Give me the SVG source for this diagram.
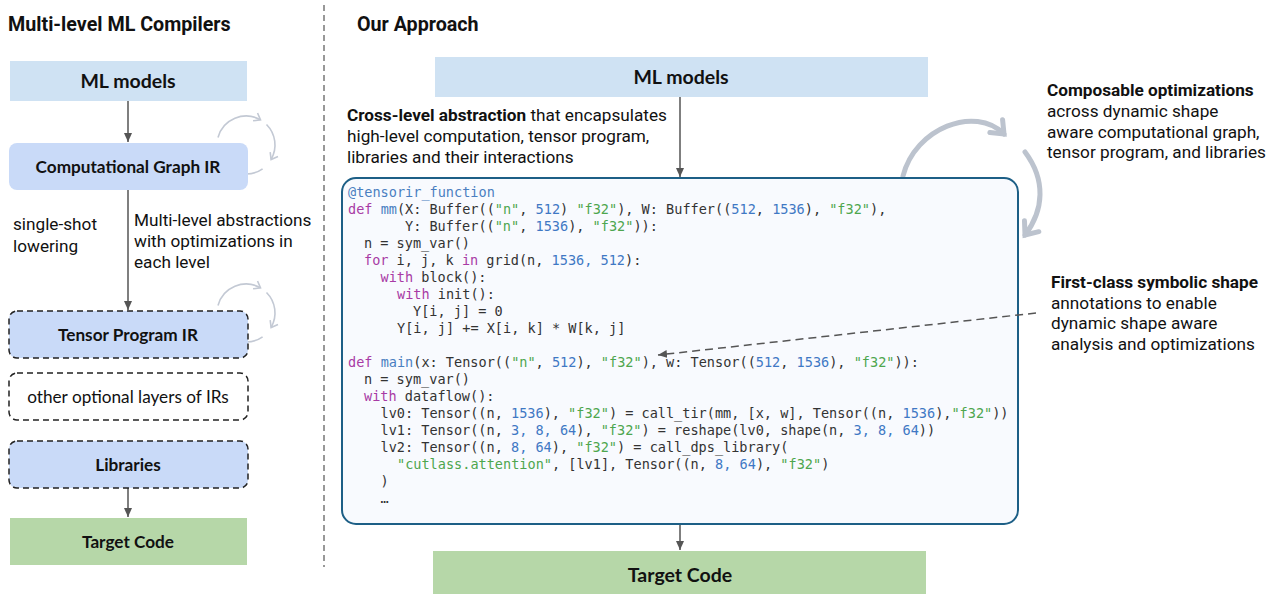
<svg xmlns="http://www.w3.org/2000/svg" width="1267" height="594" viewBox="0 0 1267 594">
<defs>
<style>
.title{font-family:Roboto,"Liberation Sans",sans-serif;font-weight:bold;font-size:19.7px;fill:#111}
.lbl{font-family:Lato,"Liberation Sans",sans-serif;font-weight:bold;fill:#111;text-anchor:middle}
.ann{font-family:Roboto,"Liberation Sans",sans-serif;font-size:17.2px;fill:#111}
.code{font-family:"DejaVu Sans Mono","Liberation Mono",monospace;font-size:13.55px;fill:#333}
.kw{fill:#a83aa5}.fn{fill:#4a7fc1}.num{fill:#3f78c4}.str{fill:#4ea64e}
.arrow{stroke:#555;stroke-width:1.5;fill:none;marker-end:url(#ah)}
.loop{stroke:#c3c9d4;stroke-width:1.6;fill:none}
.big{stroke:#bcc3ce;stroke-width:5;fill:none;stroke-linecap:round}
.dash{stroke:#222;stroke-width:1.5;stroke-dasharray:6 4}
</style>
<marker id="ah" markerUnits="userSpaceOnUse" markerWidth="10" markerHeight="10" refX="9" refY="5" orient="auto">
<path d="M0,1 L9,5 L0,9 Z" fill="#555"/>
</marker>
<marker id="ch" markerUnits="userSpaceOnUse" markerWidth="12" markerHeight="12" refX="8" refY="6" orient="auto">
<path d="M2,1.5 L8,6 L2,10.5" fill="none" stroke="#c3c9d4" stroke-width="1.6"/>
</marker>
<marker id="chb" markerUnits="userSpaceOnUse" markerWidth="24" markerHeight="24" refX="15" refY="12" orient="auto">
<path d="M4,3 L15,12 L4,21" fill="none" stroke="#bcc3ce" stroke-width="5" stroke-linecap="round"/>
</marker>
</defs>
<rect width="1267" height="594" fill="#fff"/>

<!-- divider -->
<line x1="324" y1="5" x2="324" y2="567" stroke="#777" stroke-width="1.5" stroke-dasharray="6 4"/>

<text class="title" x="8" y="30.5">Multi-level ML Compilers</text>
<text class="title" x="357" y="30.5">Our Approach</text>

<!-- optimisation loops -->
<g id="loops">
<path class="loop" d="M218,137.5 A29,29 0 0 1 260.5,119.9" marker-end="url(#ch)"/>
<path class="loop" d="M266.5,124.5 A29,29 0 0 1 271.1,159.5" marker-end="url(#ch)"/>
<path class="loop" d="M262.6,168.8 A29,29 0 0 1 243.5,173.9"/>
<g transform="translate(0,168)">
<path class="loop" d="M218,137.5 A29,29 0 0 1 260.5,119.9" marker-end="url(#ch)"/>
<path class="loop" d="M266.5,124.5 A29,29 0 0 1 271.1,159.5" marker-end="url(#ch)"/>
<path class="loop" d="M262.6,168.8 A29,29 0 0 1 243.5,173.9"/>
</g>
<path class="big" d="M903,176 C915,128 975,105 1004,134" marker-end="url(#chb)"/>
<path class="big" d="M1025,152 C1046,180 1044,210 1025,235" marker-end="url(#chb)"/>
</g>

<!-- connectors -->
<g id="connectors">
<line class="arrow" x1="128" y1="101" x2="128" y2="142"/>
<line class="arrow" x1="128" y1="190" x2="128" y2="310"/>
<line class="arrow" x1="128" y1="488" x2="128" y2="517"/>
<line class="arrow" x1="680" y1="97" x2="680" y2="177"/>
<line class="arrow" x1="680" y1="524" x2="680" y2="550"/>
</g>

<!-- left nodes -->
<g id="l-ml">
<rect x="10" y="61" width="237" height="40" fill="#cfe2f3"/>
<text class="lbl" x="128" y="88" font-size="19.5">ML models</text>
</g>
<g id="l-graph">
<rect x="9" y="143" width="239" height="47" rx="8" fill="#c9daf8"/>
<text class="lbl" x="128" y="173" font-size="17.2">Computational Graph IR</text>
</g>
<g id="l-tensor">
<rect class="dash" x="9" y="311" width="239" height="47" rx="8" fill="#c9daf8"/>
<text class="lbl" x="128" y="341" font-size="17.2">Tensor Program IR</text>
</g>
<g id="l-other">
<rect class="dash" x="9" y="373" width="239" height="47" rx="8" fill="#fff"/>
<text class="lbl" x="128" y="403" font-size="17.2" style="font-weight:normal">other optional layers of IRs</text>
</g>
<g id="l-lib">
<rect class="dash" x="9" y="441" width="239" height="47" rx="8" fill="#c9daf8"/>
<text class="lbl" x="128" y="470.5" font-size="17.2">Libraries</text>
</g>
<g id="l-target">
<rect x="10" y="518" width="237" height="47" fill="#b6d7a8"/>
<text class="lbl" x="128" y="548" font-size="17.2">Target Code</text>
</g>

<g id="l-notes">
<text class="ann" x="13" y="230">single-shot</text>
<text class="ann" x="13" y="252">lowering</text>
<text class="ann" x="134" y="226">Multi-level abstractions</text>
<text class="ann" x="134" y="247">with optimizations in</text>
<text class="ann" x="134" y="268">each level</text>
</g>

<!-- right nodes -->
<g id="r-ml">
<rect x="435" y="57" width="493" height="40" fill="#cfe2f3"/>
<text class="lbl" x="681" y="84" font-size="19.5">ML models</text>
</g>
<g id="r-target">
<rect x="433" y="551" width="493" height="43" fill="#b6d7a8"/>
<text class="lbl" x="680" y="582" font-size="19.5">Target Code</text>
</g>

<g id="r-notes">
<text class="ann" x="347" y="121"><tspan font-weight="bold">Cross-level abstraction</tspan> that encapsulates</text>
<text class="ann" x="347" y="142">high-level computation, tensor program,</text>
<text class="ann" x="347" y="163">libraries and their interactions</text>
<text class="ann" x="1047" y="96" font-weight="bold">Composable optimizations</text>
<text class="ann" x="1047" y="117">across dynamic shape</text>
<text class="ann" x="1047" y="138">aware computational graph,</text>
<text class="ann" x="1047" y="158">tensor program, and libraries</text>
<text class="ann" x="1051" y="288" font-weight="bold">First-class symbolic shape</text>
<text class="ann" x="1051" y="309">annotations to enable</text>
<text class="ann" x="1051" y="329">dynamic shape aware</text>
<text class="ann" x="1051" y="350">analysis and optimizations</text>
</g>

<!-- code node -->
<g id="code">
<rect x="342" y="178" width="676" height="346" rx="14" fill="#f8fafe" stroke="#1d5f86" stroke-width="2"/>
<text class="code" x="348" y="197"><tspan class="fn">@tensorir_function</tspan></text>
<text class="code" x="348" y="214"><tspan class="kw">def</tspan> <tspan class="fn">mm</tspan>(X: Buffer((<tspan class="str">"n"</tspan>, <tspan class="num">512</tspan>) <tspan class="str">"f32"</tspan>), W: Buffer((<tspan class="num">512</tspan>, <tspan class="num">1536</tspan>), <tspan class="str">"f32"</tspan>),</text>
<text class="code" x="405" y="231">Y: Buffer((<tspan class="str">"n"</tspan>, <tspan class="num">1536</tspan>), <tspan class="str">"f32"</tspan>)):</text>
<text class="code" x="364" y="248">n = sym_var()</text>
<text class="code" x="364" y="265"><tspan class="kw">for</tspan> i, j, k <tspan class="kw">in</tspan> grid(n, <tspan class="num">1536, 512</tspan>):</text>
<text class="code" x="380.5" y="282"><tspan class="kw">with</tspan> block():</text>
<text class="code" x="397" y="299"><tspan class="kw">with</tspan> init():</text>
<text class="code" x="413" y="316">Y[i, j] = 0</text>
<text class="code" x="397" y="333">Y[i, j] += X[i, k] * W[k, j]</text>
<text class="code" x="348" y="367"><tspan class="kw">def</tspan> <tspan class="fn">main</tspan>(x: Tensor((<tspan class="str">"n"</tspan>, <tspan class="num">512</tspan>), <tspan class="str">"f32"</tspan>), w: Tensor((<tspan class="num">512</tspan>, <tspan class="num">1536</tspan>), <tspan class="str">"f32"</tspan>)):</text>
<text class="code" x="364" y="384">n = sym_var()</text>
<text class="code" x="364" y="401"><tspan class="kw">with</tspan> dataflow():</text>
<text class="code" x="380.5" y="418">lv0: Tensor((n, <tspan class="num">1536</tspan>), <tspan class="str">"f32"</tspan>) = call_tir(mm, [x, w], Tensor((n, <tspan class="num">1536</tspan>),<tspan class="str">"f32"</tspan>))</text>
<text class="code" x="380.5" y="435">lv1: Tensor((n, <tspan class="num">3, 8, 64</tspan>), <tspan class="str">"f32"</tspan>) = reshape(lv0, shape(n, <tspan class="num">3, 8, 64</tspan>))</text>
<text class="code" x="380.5" y="452">lv2: Tensor((n, <tspan class="num">8, 64</tspan>), <tspan class="str">"f32"</tspan>) = call_dps_library(</text>
<text class="code" x="397" y="469"><tspan class="str">"cutlass.attention"</tspan>, [lv1], Tensor((n, <tspan class="num">8, 64</tspan>), <tspan class="str">"f32"</tspan>)</text>
<text class="code" x="380.5" y="486">)</text>
<text class="code" x="380.5" y="503">…</text>
</g>

<!-- dashed annotation pointer -->
<g id="pointer">
<line x1="1036" y1="313" x2="658" y2="355" stroke="#555" stroke-width="1.5" stroke-dasharray="8 5" marker-end="url(#ah)"/>
</g>
</svg>
